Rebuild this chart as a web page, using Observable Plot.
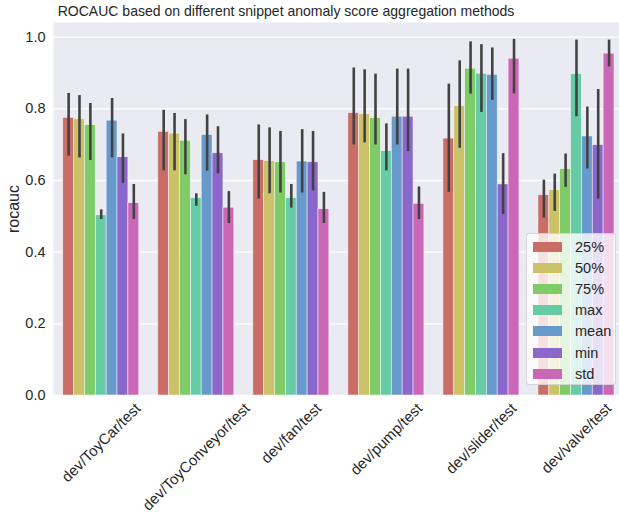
<!DOCTYPE html>
<html>
<head>
<meta charset="utf-8">
<script src="https://cdn.jsdelivr.net/npm/d3@7"></script>
<script src="https://cdn.jsdelivr.net/npm/@observablehq/plot@0.6"></script>
<style>
  html, body { margin: 0; padding: 0; background: white; overflow: hidden; }
  #wrap { position: relative; width: 619px; height: 512px; font-family: "Liberation Sans", Arial, sans-serif; color: #262626; }
  #title { height: 22px; line-height: 22px; width: 572px; text-align: center; font-size: 15px; white-space: nowrap; transform: scaleX(0.935); transform-origin: 286px 50%; }
  #legend { position: absolute; left: 526px; top: 233px; width: 90px; height: 152px; box-sizing: border-box;
            background: rgba(255,255,255,0.8); border: 1px solid rgba(204,204,204,0.8); border-radius: 3px; }
  .row { position: absolute; left: 0; height: 20px; display: flex; align-items: center; }
  .sw { width: 29px; height: 10px; margin-left: 6px; margin-right: 13px; }
  .lb { font-size: 14.5px; color: #262626; }
</style>
</head>
<body>
<div id="wrap">
  <div id="title"></div>
  <div id="chart"></div>
  <div id="legend"></div>
</div>
<script>
const title = "ROCAUC based on different snippet anomaly score aggregation methods";
const groups = ["dev/ToyCar/test", "dev/ToyConveyor/test", "dev/fan/test", "dev/pump/test", "dev/slider/test", "dev/valve/test"];
const methods = ["25%", "50%", "75%", "max", "mean", "min", "std"];
const colors = ["#cb6d67", "#cbc267", "#7ecb67", "#67cba6", "#679acb", "#8a67cb", "#cb67b7"];
const yTicks = [0, 0.2, 0.4, 0.6, 0.8, 1.0];

// mean values per method (one entry per group)
const v25 = [0.775, 0.736, 0.657, 0.788, 0.717, 0.559];
const v50 = [0.771, 0.731, 0.654, 0.785, 0.808, 0.573];
const v75 = [0.755, 0.711, 0.651, 0.774, 0.912, 0.632];
const vMax = [0.503, 0.551, 0.551, 0.682, 0.898, 0.897];
const vMean = [0.767, 0.727, 0.653, 0.778, 0.895, 0.723];
const vMin = [0.665, 0.676, 0.651, 0.778, 0.589, 0.699];
const vStd = [0.537, 0.524, 0.520, 0.535, 0.940, 0.954];

// confidence interval lows / highs
const lo25 = [0.668, 0.627, 0.548, 0.699, 0.567, 0.495];
const hi25 = [0.843, 0.796, 0.755, 0.914, 0.869, 0.601];
const lo50 = [0.663, 0.627, 0.563, 0.705, 0.690, 0.514];
const hi50 = [0.837, 0.787, 0.747, 0.909, 0.934, 0.618];
const lo75 = [0.656, 0.616, 0.565, 0.699, 0.841, 0.581];
const hi75 = [0.815, 0.770, 0.737, 0.897, 0.987, 0.674];
const loMax = [0.491, 0.528, 0.523, 0.627, 0.790, 0.778];
const hiMax = [0.518, 0.563, 0.589, 0.758, 0.979, 0.992];
const loMean = [0.663, 0.626, 0.565, 0.699, 0.824, 0.632];
const hiMean = [0.829, 0.783, 0.742, 0.911, 0.970, 0.805];
const loMin = [0.592, 0.619, 0.571, 0.681, 0.505, 0.548];
const hiMin = [0.730, 0.750, 0.737, 0.911, 0.675, 0.854];
const loStd = [0.491, 0.480, 0.480, 0.491, 0.842, 0.917];
const hiStd = [0.589, 0.569, 0.567, 0.582, 0.994, 0.992];

const vals = [v25, v50, v75, vMax, vMean, vMin, vStd];
const los = [lo25, lo50, lo75, loMax, loMean, loMin, loStd];
const his = [hi25, hi50, hi75, hiMax, hiMean, hiMin, hiStd];

const bw = 0.8 / methods.length;
const rows = [];
groups.forEach((g, gi) => {
  methods.forEach((m, mi) => {
    const x1 = gi - 0.4 + mi * bw;
    rows.push({group: g, method: m, x1, x2: x1 + bw, xc: x1 + bw / 2,
               value: vals[mi][gi], lo: los[mi][gi], hi: his[mi][gi]});
  });
});

document.getElementById("title").textContent = title;

const font = "'Liberation Sans', Arial, sans-serif";
const ctx = document.createElement("canvas").getContext("2d");
const xFont = 15;
ctx.font = xFont + "px 'Liberation Sans'";

const labelMarks = groups.map((g, gi) => {
  const w = ctx.measureText(g).width;
  return Plot.text([g], {
    x: () => gi, text: d => d, frameAnchor: "bottom",
    rotate: -45, textAnchor: "end", lineAnchor: "middle",
    dx: w * 0.3536, dy: 10.5, fontSize: xFont, fill: "#262626"
  });
});

const chart = Plot.plot({
  width: 619, height: 490,
  marginTop: 0, marginBottom: 117, marginLeft: 53, marginRight: 0,
  style: {fontFamily: font, fontSize: "14px", color: "#262626", background: "white", overflow: "visible"},
  x: {domain: [-0.5, 5.5], range: [53.2, 623.5], axis: null},
  y: {domain: [0, 1.041]},
  color: {domain: methods, range: colors},
  marks: [
    Plot.frame({fill: "#eaeaf2", stroke: null}),
    Plot.gridY(yTicks, {stroke: "white", strokeOpacity: 1, strokeWidth: 1.3}),
    Plot.axisY(yTicks, {tickSize: 0, tickPadding: 8, tickFormat: d3.format(".1f"), fontSize: 14.5, fill: "#262626", label: null}),
    Plot.text(["rocauc"], {frameAnchor: "left", rotate: -90, dx: -40, textAnchor: "middle", lineAnchor: "middle", fontSize: 16, fill: "#262626"}),
    Plot.rect(rows, {x1: "x1", x2: "x2", y1: 0, y2: "value", fill: "method", stroke: "white", strokeWidth: 0.7, strokeOpacity: 0.7}),
    Plot.ruleX(rows, {x: "xc", y1: "lo", y2: "hi", stroke: "#424242", strokeWidth: 2.6}),
    ...labelMarks
  ]
});
document.getElementById("chart").appendChild(chart);

const legend = document.getElementById("legend");
methods.forEach((m, i) => {
  const row = document.createElement("div");
  row.className = "row";
  row.style.top = (3 + i * 21.1) + "px";
  const sw = document.createElement("div");
  sw.className = "sw";
  sw.style.background = colors[i];
  const lb = document.createElement("span");
  lb.className = "lb";
  lb.textContent = m;
  row.appendChild(sw);
  row.appendChild(lb);
  legend.appendChild(row);
});
</script>
</body>
</html>
